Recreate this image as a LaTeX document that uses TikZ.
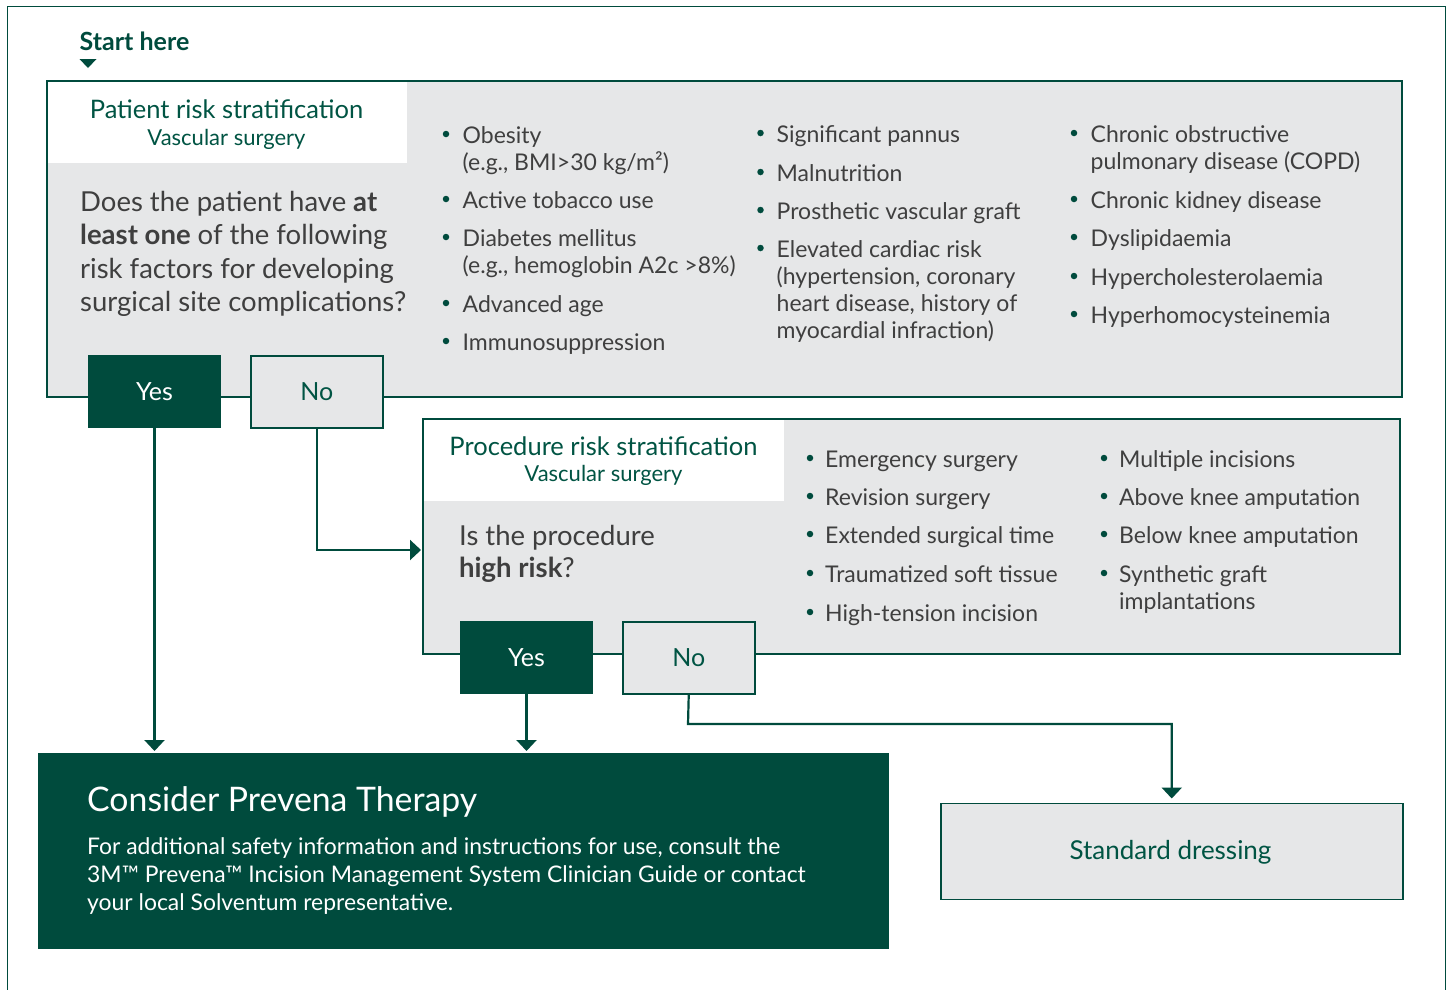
\documentclass[tikz,border=0pt]{standalone}
\usepackage{fontspec}
\setmainfont{Lato}
\usetikzlibrary{arrows.meta}
\definecolor{dkgreen}{HTML}{004B3D}
\definecolor{ttlgreen}{HTML}{005443}
\definecolor{boxgrey}{HTML}{E6E7E8}
\definecolor{txtgrey}{HTML}{3F3F3F}
\newcommand{\fsStart}{\fontsize{25}{29}\selectfont\bfseries}
\newcommand{\fsTitle}{\fontsize{25.5}{29}\selectfont}
\newcommand{\fsSub}{\fontsize{22}{26}\selectfont}
\newcommand{\fsQ}{\fontsize{27.5}{32}\selectfont}
\newcommand{\fsBul}{\fontsize{23}{27}\selectfont}
\newcommand{\fsYN}{\fontsize{25}{29}\selectfont}
\newcommand{\fsBig}{\fontsize{33.8}{38}\selectfont}
\newcommand{\fsBody}{\fontsize{22.9}{28}\selectfont}
\newcommand{\fsStd}{\fontsize{26}{30}\selectfont}
\begin{document}
\begin{tikzpicture}[x=1pt,y=-1pt,
  frameline/.style={draw=dkgreen, line width=1.5pt},
  greyfill/.style={fill=boxgrey, inner sep=0pt, outer sep=0pt, anchor=north west},
  border/.style={draw=dkgreen, line width=1.5pt},
  yesbox/.style={fill=dkgreen, draw=dkgreen, line width=1pt, text=white, minimum width=132pt, minimum height=72pt, inner sep=0pt, anchor=north west, font=\fsYN},
  nobox/.style={fill=boxgrey, draw=dkgreen, line width=1.5pt, text=ttlgreen, minimum width=132pt, minimum height=72pt, inner sep=0pt, anchor=north west, font=\fsYN},
  conn/.style={draw=dkgreen, line width=2.2pt},
  arr/.style={conn, -{Triangle[width=20pt,length=11pt]}},
  txt/.style={anchor=base west, inner sep=0pt, text=txtgrey},
  bultxt/.style={txt, font=\fsBul},
  ttl/.style={anchor=base, inner sep=0pt, text=ttlgreen},
  bul/.style={circle, fill=dkgreen, inner sep=0pt, minimum size=6.5pt}
]
\useasboundingbox (0,0) rectangle (1450,989);
\fill[white] (0,0) rectangle (1450,989);
% outer frame
\draw[frameline] (7.5,995) |- (1445.5,6.5) -- (1445.5,995);

% start here
\node[anchor=base west, inner sep=0pt, text=dkgreen, font=\fsStart] (start) at (79.5,50) {Start here};
\fill[dkgreen] (79.5,59) -- (96.5,59) -- (88,68) -- cycle;

% ---------------- patient box
\node[greyfill, minimum width=1355pt, minimum height=316pt] (pbox) at (47,81) {};
\fill[white] (47,81) rectangle (407,163);
\draw[border] (pbox.north west) rectangle (pbox.south east);

\node[ttl, font=\fsTitle] (ptitle) at (226.5,118.5) {Patient risk stratification};
\node[ttl, font=\fsSub] (psub) at (226.5,145.5) {Vascular surgery};

\node[txt, font=\fsQ] (pq1) at (80,211.5) {Does the patient have \textbf{at}};
\node[txt, font=\fsQ] (pq2) at (80,244.5) {\textbf{least one} of the following};
\node[txt, font=\fsQ] (pq3) at (80,278) {risk factors for developing};
\node[txt, font=\fsQ] (pq4) at (80,311) {surgical site complications?};

% column 1
\node[bul] (d11) at (446,134) {};
\node[bultxt] (t11) at (462.5,143) {Obesity};
\node[bultxt] (t11b) at (462.5,170) {(e.g., BMI>30 kg/m²)};
\node[bul] (d12) at (446,199) {};
\node[bultxt] (t12) at (462.5,208) {Active tobacco use};
\node[bul] (d13) at (446,237) {};
\node[bultxt] (t13) at (462.5,246) {Diabetes mellitus};
\node[bultxt] (t13b) at (462.5,273) {(e.g., hemoglobin A2c >8\%)};
\node[bul] (d14) at (446,303) {};
\node[bultxt] (t14) at (462.5,312) {Advanced age};
\node[bul] (d15) at (446,341) {};
\node[bultxt] (t15) at (462.5,350) {Immunosuppression};

% column 2
\node[bul] (d21) at (760.5,133) {};
\node[bultxt] (t21) at (776.5,142) {Significant pannus};
\node[bul] (d22) at (760.5,172) {};
\node[bultxt] (t22) at (776.5,181) {Malnutrition};
\node[bul] (d23) at (760.5,210) {};
\node[bultxt] (t23) at (776.5,219) {Prosthetic vascular graft};
\node[bul] (d24) at (760.5,248) {};
\node[bultxt] (t24) at (776.5,257) {Elevated cardiac risk};
\node[bultxt] (t24b) at (776.5,284) {(hypertension, coronary};
\node[bultxt] (t24c) at (776.5,311) {heart disease, history of};
\node[bultxt] (t24d) at (776.5,338) {myocardial infraction)};

% column 3
\node[bul] (d31) at (1074,133) {};
\node[bultxt] (t31) at (1090.5,142) {Chronic obstructive};
\node[bultxt] (t31b) at (1090.5,169) {pulmonary disease (COPD)};
\node[bul] (d32) at (1074,199) {};
\node[bultxt] (t32) at (1090.5,208) {Chronic kidney disease};
\node[bul] (d33) at (1074,237) {};
\node[bultxt] (t33) at (1090.5,246) {Dyslipidaemia};
\node[bul] (d34) at (1074,276) {};
\node[bultxt] (t34) at (1090.5,285) {Hypercholesterolaemia};
\node[bul] (d35) at (1074,314) {};
\node[bultxt] (t35) at (1090.5,323) {Hyperhomocysteinemia};

\node[yesbox] (yes1) at (88,355) {Yes};
\node[nobox] (no1) at (250,355) {No};

% ---------------- procedure box
\node[greyfill, minimum width=977pt, minimum height=235pt] (rbox) at (423,419) {};
\fill[white] (423,419) rectangle (784,500.5);
\draw[border] (rbox.north west) rectangle (rbox.south east);

\node[ttl, font=\fsTitle] (rtitle) at (603.5,455) {Procedure risk stratification};
\node[ttl, font=\fsSub] (rsub) at (603.5,481.5) {Vascular surgery};

\node[txt, font=\fsQ] (rq1) at (459,545) {Is the procedure};
\node[txt, font=\fsQ] (rq2) at (459,577.5) {\textbf{high risk}?};

\node[bul] (e11) at (810,458) {};
\node[bultxt] (u11) at (825,467) {Emergency surgery};
\node[bul] (e12) at (810,496) {};
\node[bultxt] (u12) at (825,505) {Revision surgery};
\node[bul] (e13) at (810,534) {};
\node[bultxt] (u13) at (825,543) {Extended surgical time};
\node[bul] (e14) at (810,573) {};
\node[bultxt] (u14) at (825,582) {Traumatized soft tissue};
\node[bul] (e15) at (810,612) {};
\node[bultxt] (u15) at (825,621) {High-tension incision};

\node[bul] (e21) at (1104,458) {};
\node[bultxt] (u21) at (1119,467) {Multiple incisions};
\node[bul] (e22) at (1104,496) {};
\node[bultxt] (u22) at (1119,505) {Above knee amputation};
\node[bul] (e23) at (1104,534) {};
\node[bultxt] (u23) at (1119,543) {Below knee amputation};
\node[bul] (e24) at (1104,573) {};
\node[bultxt] (u24) at (1119,582) {Synthetic graft};
\node[bultxt] (u24b) at (1119,609) {implantations};

\node[yesbox] (yes2) at (460,621) {Yes};
\node[nobox] (no2) at (622,621) {No};

% ---------------- outcome boxes
\node[fill=dkgreen, minimum width=851pt, minimum height=196pt, inner sep=0pt, anchor=north west] (cons) at (38,753) {};
\node[anchor=base west, inner sep=0pt, text=white, font=\fsBig] (constitle) at (87,811.5) {Consider Prevena Therapy};
\node[anchor=base west, inner sep=0pt, text=white, font=\fsBody] (consb1) at (87,854) {For additional safety information and instructions for use, consult the};
\node[anchor=base west, inner sep=0pt, text=white, font=\fsBody] (consb2) at (87,882.5) {3M™ Prevena™ Incision Management System Clinician Guide or contact};
\node[anchor=base west, inner sep=0pt, text=white, font=\fsBody] (consb3) at (87,910.5) {your local Solventum representative.};

\node[fill=boxgrey, draw=dkgreen, line width=1.5pt, minimum width=462pt, minimum height=96pt, inner sep=0pt, anchor=north west] (std) at (940,802.5) {};
\node[ttl, font=\fsStd] (stdtxt) at (1170.5,859) {Standard dressing};

% ---------------- connectors
\coordinate (pin) at (421,550);
\coordinate (bend) at (688,724);
\draw[arr, shorten >=2pt] (yes1.south) -- (yes1.south |- cons.north);
\draw[arr] (no1.south) |- (pin);
\draw[arr, shorten >=2pt] (yes2.south) -- (yes2.south |- cons.north);
\draw[arr, shorten >=4pt] (no2.south) -- (bend) -| (std.north);
\end{tikzpicture}
\end{document}
